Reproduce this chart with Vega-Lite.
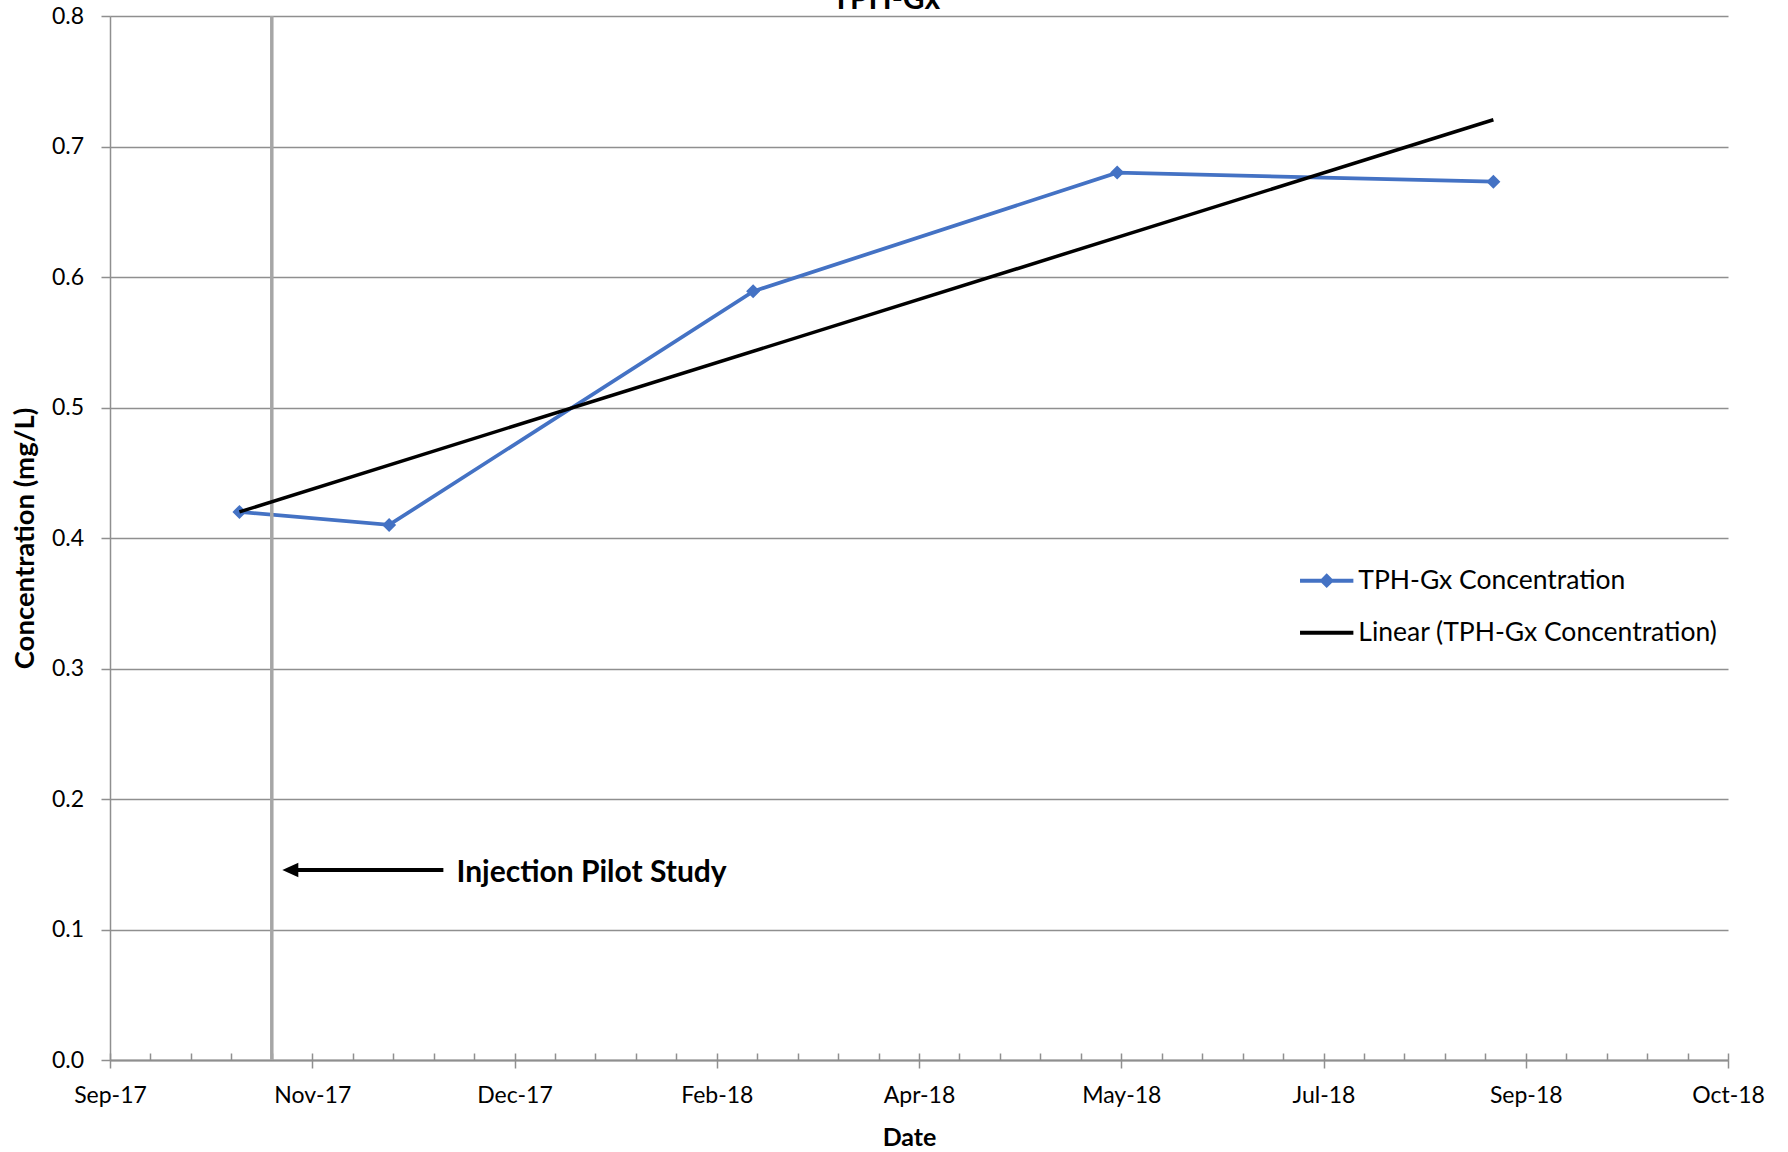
{
  "$schema": "https://vega.github.io/schema/vega-lite/v6.json",
  "width": 1618,
  "height": 1044,
  "autosize": {"type": "none"},
  "padding": {"left": 110, "top": 16, "right": 60, "bottom": 92},
  "background": "white",
  "title": {"text": "TPH-Gx", "fontSize": 30, "fontWeight": "bold", "font": "Lato", "color": "black", "anchor": "middle", "baseline": "alphabetic", "offset": 0, "dy": 34, "dx": -33},
  "config": {"view": {"stroke": null}, "font": "Lato"},
  "datasets": {
    "series": [
      {"date": "2017-10-24T00:00:00", "conc": 0.42},
      {"date": "2017-11-30T00:00:00", "conc": 0.41},
      {"date": "2018-02-28T00:00:00", "conc": 0.589},
      {"date": "2018-05-29T00:00:00", "conc": 0.68},
      {"date": "2018-08-30T00:00:00", "conc": 0.673}
    ]
  },
  "resolve": {"axis": {"x": "independent", "y": "independent"}},
  "layer": [
    {
      "data": {"name": "series"},
      "mark": {"type": "line", "color": "#4472C4", "strokeWidth": 3.75},
      "encoding": {
        "x": {"field": "date", "type": "temporal",
          "scale": {"domain": [{"year": 2017, "month": 9, "date": 22}, {"year": 2018, "month": 10, "date": 27}]},
          "axis": {"orient": "bottom", "format": "%b-%y", "grid": false,
            "values": [{"year": 2017, "month": 9, "date": 22}, {"year": 2017, "month": 11, "date": 11}, {"year": 2017, "month": 12, "date": 31}, {"year": 2018, "month": 2, "date": 19}, {"year": 2018, "month": 4, "date": 10}, {"year": 2018, "month": 5, "date": 30}, {"year": 2018, "month": 7, "date": 19}, {"year": 2018, "month": 9, "date": 7}, {"year": 2018, "month": 10, "date": 27}],
            "labelFontSize": 23, "labelColor": "black", "labelBaseline": "alphabetic", "labelPadding": 34, "labelFlush": false, "labelOverlap": false,
            "tickSize": 8, "tickColor": "#8f8f8f", "tickWidth": 1.5, "domainColor": "#8f8f8f", "domainWidth": 2,
            "title": "Date", "titleFontSize": 25, "titleFontWeight": "bold", "titleColor": "black", "titleX": 799, "titleY": 85, "titleBaseline": "alphabetic", "titleAlign": "center"}},
        "y": {"field": "conc", "type": "quantitative",
          "scale": {"domain": [0, 0.8], "nice": false},
          "axis": {"orient": "left", "values": [0, 0.1, 0.2, 0.3, 0.4, 0.5, 0.6, 0.7, 0.8], "format": ".1f",
            "labelFontSize": 23, "labelColor": "black", "labelPadding": 17.5,
            "tickSize": 9, "tickColor": "#8f8f8f", "tickWidth": 1.5, "domainColor": "#8f8f8f", "domainWidth": 1.5,
            "grid": true, "gridColor": "#8f8f8f", "gridWidth": 1.5,
            "title": "Concentration (mg/L)", "titleFontSize": 27.5, "titleFontWeight": "bold", "titleColor": "black", "titleAngle": 270, "titleX": -77, "titleY": 522, "titleBaseline": "alphabetic", "titleAlign": "center"}}
      }
    },
    {
      "data": {"values": [{"date": "2017-11-01T00:00:00"}]},
      "mark": {"type": "rule", "color": "#a6a6a6", "strokeWidth": 3.5},
      "encoding": {
        "x": {"field": "date", "type": "temporal",
          "axis": {"orient": "bottom", "domain": false, "labels": false, "grid": false, "title": null, "tickSize": -7, "tickColor": "#8f8f8f", "tickWidth": 1.5,
            "values": [
              {"year": 2017, "month": 9, "date": 22}, {"year": 2017, "month": 10, "date": 2}, {"year": 2017, "month": 10, "date": 12}, {"year": 2017, "month": 10, "date": 22},
              {"year": 2017, "month": 11, "date": 1}, {"year": 2017, "month": 11, "date": 11}, {"year": 2017, "month": 11, "date": 21}, {"year": 2017, "month": 12, "date": 1},
              {"year": 2017, "month": 12, "date": 11}, {"year": 2017, "month": 12, "date": 21}, {"year": 2017, "month": 12, "date": 31}, {"year": 2018, "month": 1, "date": 10},
              {"year": 2018, "month": 1, "date": 20}, {"year": 2018, "month": 1, "date": 30}, {"year": 2018, "month": 2, "date": 9}, {"year": 2018, "month": 2, "date": 19},
              {"year": 2018, "month": 3, "date": 1}, {"year": 2018, "month": 3, "date": 11}, {"year": 2018, "month": 3, "date": 21}, {"year": 2018, "month": 3, "date": 31},
              {"year": 2018, "month": 4, "date": 10}, {"year": 2018, "month": 4, "date": 20}, {"year": 2018, "month": 4, "date": 30}, {"year": 2018, "month": 5, "date": 10},
              {"year": 2018, "month": 5, "date": 20}, {"year": 2018, "month": 5, "date": 30}, {"year": 2018, "month": 6, "date": 9}, {"year": 2018, "month": 6, "date": 19},
              {"year": 2018, "month": 6, "date": 29}, {"year": 2018, "month": 7, "date": 9}, {"year": 2018, "month": 7, "date": 19}, {"year": 2018, "month": 7, "date": 29},
              {"year": 2018, "month": 8, "date": 8}, {"year": 2018, "month": 8, "date": 18}, {"year": 2018, "month": 8, "date": 28}, {"year": 2018, "month": 9, "date": 7},
              {"year": 2018, "month": 9, "date": 17}, {"year": 2018, "month": 9, "date": 27}, {"year": 2018, "month": 10, "date": 7}, {"year": 2018, "month": 10, "date": 17},
              {"year": 2018, "month": 10, "date": 27}
            ]}}
      }
    },
    {
      "data": {"values": [{"start": "2017-11-05T14:00:00", "end": "2017-12-13T10:00:00", "conc": 0.1456}]},
      "mark": {"type": "rule", "color": "black", "strokeWidth": 4},
      "encoding": {
        "x": {"field": "start", "type": "temporal", "axis": null},
        "x2": {"field": "end"},
        "y": {"field": "conc", "type": "quantitative", "axis": null}
      }
    },
    {
      "data": {"values": [{"date": "2017-11-05T14:00:00", "conc": 0.1456}]},
      "mark": {"type": "point", "shape": "M-1,0L1,-0.92L1,0.92Z", "size": 256, "filled": true, "color": "black", "opacity": 1},
      "encoding": {
        "x": {"field": "date", "type": "temporal", "axis": null},
        "y": {"field": "conc", "type": "quantitative", "axis": null}
      }
    },
    {
      "data": {"values": [{"date": "2017-12-16T16:00:00", "conc": 0.1456, "label": "Injection Pilot Study"}]},
      "mark": {"type": "text", "align": "left", "baseline": "middle", "dy": 3, "fontSize": 30, "fontWeight": "bold", "color": "black", "font": "Lato"},
      "encoding": {
        "x": {"field": "date", "type": "temporal", "axis": null},
        "y": {"field": "conc", "type": "quantitative", "axis": null},
        "text": {"field": "label"}
      }
    },
    {
      "data": {"name": "series"},
      "mark": {"type": "point", "shape": "diamond", "size": 196, "filled": true, "color": "#4472C4", "opacity": 1},
      "encoding": {
        "x": {"field": "date", "type": "temporal", "axis": null},
        "y": {"field": "conc", "type": "quantitative", "axis": null}
      }
    },
    {
      "data": {"values": [
        {"date": "2017-10-24T00:00:00", "conc": 0.42},
        {"date": "2018-08-30T00:00:00", "conc": 0.7205}
      ]},
      "mark": {"type": "line", "color": "black", "strokeWidth": 3.5},
      "encoding": {
        "x": {"field": "date", "type": "temporal", "axis": null},
        "y": {"field": "conc", "type": "quantitative", "axis": null}
      }
    },
    {
      "data": {"values": []},
      "mark": {"type": "point", "filled": true, "opacity": 1},
      "encoding": {
        "color": {"field": "series", "type": "nominal",
          "scale": {"domain": ["TPH-Gx Concentration", "Linear (TPH-Gx Concentration)"], "range": ["#4472C4", "#000000"]},
          "legend": {"orient": "none", "legendX": 1193.7, "legendY": 541.7, "title": null, "symbolSize": 2116, "labelFontSize": 26.5, "labelColor": "black", "labelOffset": 8.6, "rowPadding": 15, "padding": 0, "labelLimit": 0, "symbolStrokeWidth": 0, "symbolOpacity": 1, "labelFont": "Lato"}},
        "shape": {"field": "series", "type": "nominal",
          "scale": {"domain": ["TPH-Gx Concentration", "Linear (TPH-Gx Concentration)"], "range": ["M-1.16,-0.087H1.16V0.087H-1.16Z M0,-0.32L0.32,0L0,0.32L-0.32,0Z", "M-1.16,-0.087H1.16V0.087H-1.16Z"]},
          "legend": {"orient": "none", "legendX": 1193.7, "legendY": 541.7, "title": null, "symbolSize": 2116, "labelFontSize": 26.5, "labelColor": "black", "labelOffset": 8.6, "rowPadding": 15, "padding": 0, "labelLimit": 0, "symbolStrokeWidth": 0, "symbolOpacity": 1, "labelFont": "Lato"}}
      }
    }
  ]
}
